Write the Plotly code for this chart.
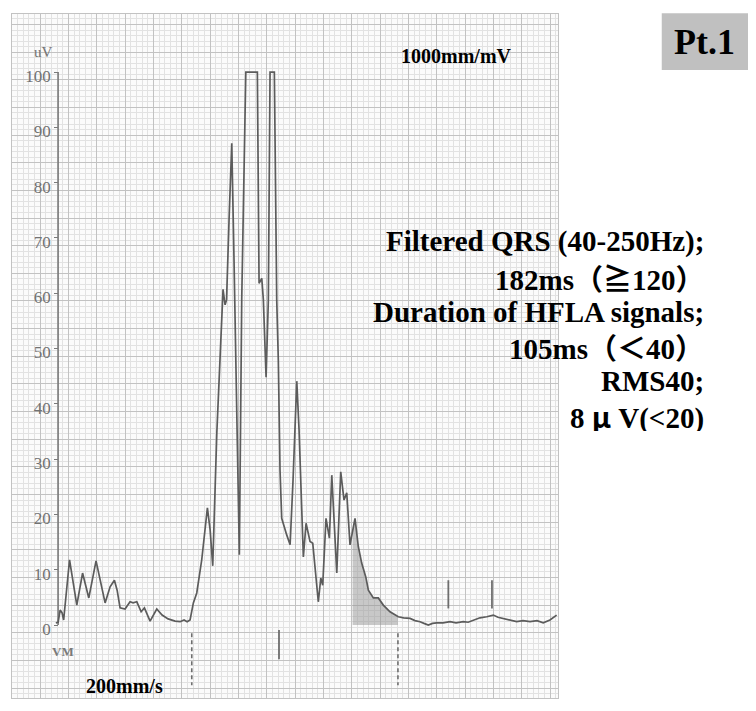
import numpy as np
import plotly.graph_objects as go

# ---------------- data (time in ms, amplitude in uV) ----------------
time_ms = [-2, 0, 1.8, 3.5, 4.9, 10.1, 16.5, 21.6, 27.1, 33.5, 41.5, 45.9, 49.7, 52.1,
           54.7, 59.1, 63.5, 66.2, 69.5, 73.3, 76.2, 81.2, 87.1, 91.8, 97.1, 103.3,
           107.7, 111.2, 113.9, 116.5, 119.4, 122.4, 126.8, 131.8, 134.2, 136.5,
           140.1, 143.9, 145.6, 147.4, 148.7, 150.9, 153.3, 155.3, 158.0, 160.0,
           162.1, 165.7, 175.9, 177.4, 179.8, 181.2, 183.6, 185.6, 187.1, 190.9,
           193.0, 194.4, 195.9, 197.4, 201.8, 204.8, 207.4, 210.7, 212.7, 215.1,
           216.5, 218.9, 222.4, 224.8, 226.8, 229.7, 231.9, 233.6, 236.5, 239.5,
           241.6, 246.0, 249.5, 252.4, 254.8, 257.7, 262.1, 265.0, 268.0, 271.6,
           273.9, 278.3, 282.7, 287.1, 293.0, 300.3, 305.0, 310.7, 315.0, 319.5,
           323.0, 326.8, 330.5, 334.2, 339.8, 346.0, 351.3, 357.7, 362.0, 366.5,
           372.4, 378.4, 384.2, 388.3, 393.0, 398.9, 404.8, 410.4, 416.6, 422.8,
           428.3, 434.2, 440.1]
signal_uv = [0.4, 0.5, 2.7, 2.2, 0.9, 11.8, 3.6, 9.4, 4.9, 11.6, 4.0, 6.9, 8.1, 6.3,
             3.1, 2.9, 4.2, 4.0, 4.2, 2.4, 3.1, 0.7, 2.9, 1.8, 1.1, 0.7,
             0.6, 0.9, 0.6, 0.9, 4.0, 5.8, 11.8, 21.2, 17.2, 10.7,
             34.7, 55.1, 60.7, 57.9, 58.8, 73.2, 87.1, 66.0, 31.6, 12.7,
             58.8, 100, 100, 61.8, 62.7, 58.8, 44.8, 58.8, 100, 100,
             58.8, 47.9, 28.0, 19.3, 16.3, 14.5, 26.2, 44.1, 35.3, 19.0,
             12.3, 18.4, 15.1, 14.8, 9.9, 4.2, 8.5, 7.2, 19.3, 15.7,
             27.1, 9.4, 27.7, 22.6, 23.9, 14.5, 19.3, 14.2, 11.2, 8.7,
             6.3, 4.9, 4.9, 3.6, 2.4, 1.5, 1.3, 1.2, 0.8, 0.6,
             0.3, 0.0, 0.3, 0.4, 0.4, 0.6, 0.4, 0.6, 0.5, 0.9,
             1.3, 1.5, 1.8, 1.4, 1.2, 0.9, 0.6, 0.8, 0.6, 0.8,
             0.4, 0.9, 1.8]

y_tick_values = [0, 10, 20, 30, 40, 50, 60, 70, 80, 90, 100]
y_tick_labels = ["0", "10", "20", "30", "40", "50", "60", "70", "80", "90", "100"]

qrs_onset_ms = 118
qrs_offset_ms = 300
qrs_marker_ms = 195
las_window_ms = 40
late_marks_ms = [344.5, 383]

CJK = "Noto Sans CJK JP"


def cjk(s):
    return "<span style='font-family:%s'>%s</span>" % (CJK, s)


info_lines = [
    "Filtered QRS (40-250Hz);",
    "182ms" + cjk("（≧") + "120" + cjk("）"),
    "Duration of HFLA signals;",
    "105ms" + cjk("（＜") + "40" + cjk("）"),
    "RMS40;",
    "8 " + cjk("μ") + " V(<20)",
]

# ---------------- figure ----------------
SERIF = "Times New Roman, Liberation Serif, serif"
TRACE_COLOR = "#5c5c5c"
MARK_COLOR = "#6e6e6e"

t = np.array(time_ms)
v = np.array(signal_uv)

fig = go.Figure()

# shaded last-40ms region (under the curve, down to 0 uV)
w0 = qrs_offset_ms - las_window_ms
mask = (t > w0) & (t < qrs_offset_ms)
sx = np.concatenate([[w0], t[mask], [qrs_offset_ms]])
sy = np.concatenate([[np.interp(w0, t, v)], v[mask], [np.interp(qrs_offset_ms, t, v)]])
fig.add_trace(go.Scatter(x=sx, y=sy, mode="lines", line=dict(width=0),
                         fill="tozeroy", fillcolor="rgba(150,150,150,0.5)",
                         hoverinfo="skip", showlegend=False))

# vertical amplitude axis line (0..100 uV at t = 0)
fig.add_trace(go.Scatter(x=[0, 0], y=[y_tick_values[0], y_tick_values[-1]], mode="lines",
                         line=dict(color="#7a7a7a", width=1.6),
                         hoverinfo="skip", showlegend=False))

# signal
fig.add_trace(go.Scatter(x=t, y=v, mode="lines",
                         line=dict(color=TRACE_COLOR, width=1.7),
                         showlegend=False))

# onset / offset dashed markers
for tm in [qrs_onset_ms, qrs_offset_ms]:
    fig.add_trace(go.Scatter(x=[tm, tm], y=[-1.5, -10.9], mode="lines",
                             line=dict(color=MARK_COLOR, width=1.6, dash="4px,3px"),
                             hoverinfo="skip", showlegend=False))
# QRS marker
fig.add_trace(go.Scatter(x=[qrs_marker_ms, qrs_marker_ms], y=[-0.9, -6.2], mode="lines",
                         line=dict(color=MARK_COLOR, width=1.8),
                         hoverinfo="skip", showlegend=False))
# late markers
for tm in late_marks_ms:
    fig.add_trace(go.Scatter(x=[tm, tm], y=[3.0, 8.1], mode="lines",
                             line=dict(color=MARK_COLOR, width=1.8),
                             hoverinfo="skip", showlegend=False))

X0, X1 = -40.7, 441.3
Y0, Y1 = -13.2, 110.5
MAJOR = "#c2c2c2"
MINOR = "#e2e2e2"

# invisible trace carrying the uV tick axis
fig.add_trace(go.Scatter(x=[0, 0], y=[0, 100], mode="markers",
                         marker=dict(opacity=0), xaxis="x", yaxis="y2",
                         hoverinfo="skip", showlegend=False))

# page body adds an 8px margin; the figure is sized to fill the rest of the window
fig.update_layout(
    width=740, height=695,
    margin=dict(l=4, r=190, t=6, b=5),
    paper_bgcolor="white", plot_bgcolor="#fbfbfb",
    showlegend=False,
    xaxis=dict(range=[X0, X1], showticklabels=False, ticks="", zeroline=False,
               showgrid=True, gridcolor=MAJOR, gridwidth=1, tick0=X0, dtick=25,
               minor=dict(tick0=X0, dtick=5, showgrid=True, gridcolor=MINOR, gridwidth=1),
               showline=True, linecolor=MAJOR, mirror=True, fixedrange=True),
    yaxis=dict(range=[Y0, Y1], showticklabels=False, ticks="", zeroline=False,
               showgrid=True, gridcolor=MAJOR, gridwidth=1, tick0=-1.4, dtick=5,
               minor=dict(tick0=-1.4, dtick=1, showgrid=True, gridcolor=MINOR, gridwidth=1),
               showline=True, linecolor=MAJOR, mirror=True, fixedrange=True),
    yaxis2=dict(overlaying="y", range=[Y0, Y1], anchor="free",
                position=(0 - X0) / (X1 - X0),
                side="left", showgrid=False, zeroline=False, showline=False,
                ticks="outside", ticklen=4, tickcolor="#7a7a7a", tickwidth=1.2,
                tickvals=y_tick_values, ticktext=y_tick_labels,
                ticklabelshift=4,
                tickfont=dict(family=SERIF, size=17, color="#727272"),
                fixedrange=True),
)

# Pt.1 box
fig.add_shape(type="rect", xref="paper", yref="paper",
              x0=1.19, x1=1.3485, y0=0.918, y1=1.001,
              fillcolor="#c0c0c0", line=dict(width=0), layer="above")

annotations = [
    dict(text="<b>Pt.1</b>", x=1.2692, y=0.9595, font=dict(family=SERIF, size=36, color="black")),
    dict(text="<b>1000mm/mV</b>", x=0.814, y=0.9386, font=dict(family=SERIF, size=20, color="black")),
    dict(text="<b>200mm/s</b>", x=0.206, y=0.0175, font=dict(family=SERIF, size=20, color="black")),
    dict(text="uV", x=0.0568, y=0.9444, font=dict(family=SERIF, size=15, color="#727272")),
    dict(text="<b>VM</b>", x=0.0934, y=0.0677, font=dict(family=SERIF, size=13, color="#7a7a7a")),
]
for a in annotations:
    fig.add_annotation(xref="paper", yref="paper", showarrow=False,
                       xanchor="center", yanchor="middle", **a)

line_centers_px = [241, 276, 311, 345, 380, 414]
for txt, py in zip(info_lines, line_centers_px):
    fig.add_annotation(xref="paper", yref="paper", showarrow=False,
                       x=(706 - 12) / 546, y=(698 - py) / 684,
                       xanchor="right", yanchor="middle", height=33,
                       text="<b>" + txt + "</b>",
                       font=dict(family=SERIF, size=29, color="black"))

fig.write_html("out.html")
